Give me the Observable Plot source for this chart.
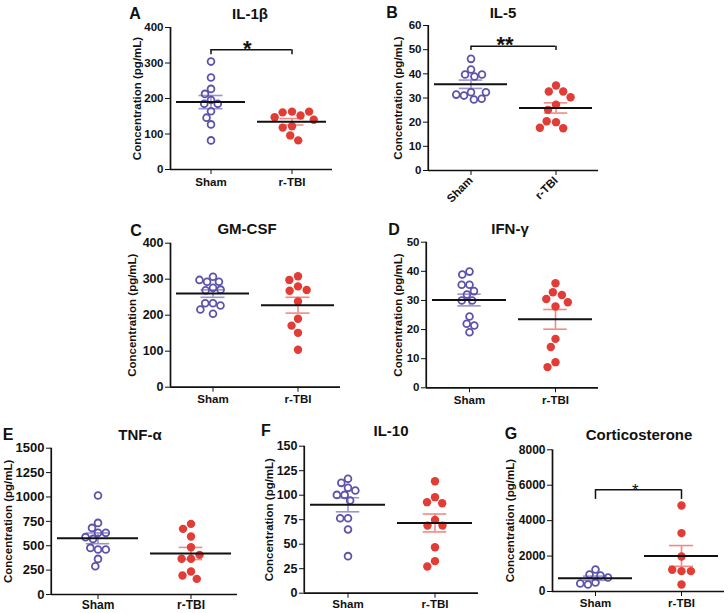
<!DOCTYPE html>
<html><head><meta charset="utf-8">
<script src="https://cdn.jsdelivr.net/npm/d3@7"></script>
<script src="https://cdn.jsdelivr.net/npm/@observablehq/plot@0.6"></script>
<style>
body{margin:0;background:#fff;}
#fig{position:relative;width:728px;height:613px;overflow:hidden;font-family:"Liberation Sans",Arial,sans-serif;background:#fff;}
#fig svg{position:absolute;left:0;top:0;}
.t{position:absolute;font-weight:bold;font-size:15px;transform:translate(-50%,-50%);white-space:nowrap;color:#111;}
.pC g[aria-label="y-axis tick label"]{font-size:12.5px;}
.pE g[aria-label="y-axis tick label"]{font-size:13px;}
.pE g[aria-label="fx-axis tick label"]{font-size:12px;}
.pF g[aria-label="y-axis tick label"]{font-size:12.5px;}
.pG g[aria-label="y-axis tick label"]{font-size:12px;}
</style></head><body><div id="fig"></div>
<script>
// ---- data ----
const groups = ["Sham", "r-TBI"];
const titles = ["IL-1β", "IL-5", "GM-CSF", "IFN-γ", "TNF-α", "IL-10", "Corticosterone"];
const letters = ["A", "B", "C", "D", "E", "F", "G"];
const yLabel = "Concentration (pg/mL)";

const il1bSham = [304, 259, 227, 213, 196, 185, 185, 164, 146, 127, 82];
const il1bTBI = [163, 161, 152, 163, 147, 122, 140, 118, 96, 82];
const il5Sham = [46.2, 41.8, 39.7, 38.9, 39.7, 32.4, 31.0, 29.4, 29.7, 31.4, 32.4];
const il5TBI = [35.2, 32.7, 32.7, 30.3, 27.2, 25.1, 20.0, 20.4, 17.5, 17.7];
const gmcsfSham = [307, 293, 293, 298, 276, 269, 271, 233, 233, 227, 216, 204];
const gmcsfTBI = [308, 298, 280, 268, 270, 238, 190, 171, 151, 104];
const ifngSham = [39.9, 38.9, 35.4, 35.4, 33.2, 32.0, 30.0, 30.0, 24.5, 22.0, 21.4, 19.1];
const ifngTBI = [35.9, 32.8, 31.9, 30.5, 27.9, 29.4, 16.8, 14.0, 8.8, 7.1];
const tnfaSham = [1015, 734, 683, 632, 632, 570, 588, 461, 478, 461, 365, 290];
const tnfaTBI = [724, 673, 594, 485, 366, 366, 406, 236, 195, 160];
const il10Sham = [116.7, 112.6, 107.5, 104.8, 100.3, 100.3, 94.6, 76.5, 76.5, 65, 37.8];
const il10TBI = [114.3, 98, 92.9, 91.8, 74.8, 69, 69, 46.9, 32.7, 27.2];
const corticoSham = [1242, 960, 903, 790, 508, 395, 452];
const corticoTBI = [4859, 3296, 1977, 1149, 1224, 1149, 395];

const ticks400 = [0, 100, 200, 300, 400];
const ticks60 = [0, 10, 20, 30, 40, 50, 60];
const ticks50 = [0, 10, 20, 30, 40, 50];
const ticks1500 = [0, 250, 500, 750, 1000, 1250, 1500];
const ticks150 = [0, 25, 50, 75, 100, 125, 150];
const ticks8000 = [0, 2000, 4000, 6000, 8000];

const sigA = {label: "*", top: 337, drop: 323};
const sigB = {label: "**", top: 51.4, drop: 49.7};
const sigG = {label: "*", top: 5744, drop: 5198};

// ---- layout (page pixels): [axisX, topY, zeroY, axisEnd] ----
const panels = [
  {sham: il1bSham, tbi: il1bTBI, ticks: ticks400, sig: sigA, box: [170, 27, 169, 332], lo: 38, rot: 0, pad: 3, star: 22, sw: "bold", title: [250, 13], letter: [135, 14]},
  {sham: il5Sham, tbi: il5TBI, ticks: ticks60, sig: sigB, box: [427, 25, 170, 598], lo: 35, rot: -45, pad: 3, star: 22, sw: "bold", title: [503, 12], letter: [392, 13]},
  {sham: gmcsfSham, tbi: gmcsfTBI, ticks: ticks400, sig: null, box: [170, 242.7, 386.7, 340], lo: 43, rot: 0, pad: 3, title: [247, 228], letter: [136, 231]},
  {sham: ifngSham, tbi: ifngTBI, ticks: ticks50, sig: null, box: [425, 241.7, 387.3, 598], lo: 33, rot: 0, pad: 3, title: [510, 228], letter: [394, 230]},
  {sham: tnfaSham, tbi: tnfaTBI, ticks: ticks1500, sig: null, box: [50, 447.7, 594, 237], lo: 48, rot: 0, pad: 1, title: [140, 434], letter: [8, 435]},
  {sham: il10Sham, tbi: il10TBI, ticks: ticks150, sig: null, box: [303, 445.7, 592.7, 478], lo: 40, rot: 0, pad: 2, title: [391, 430], letter: [266, 431]},
  {sham: corticoSham, tbi: corticoTBI, ticks: ticks8000, sig: sigG, box: [552, 449.3, 591, 724], lo: 47, rot: 0, pad: 2, star: 17, sw: "normal", title: [639, 434], letter: [511, 434]}
];

const shamColor = "#5c53ab", tbiColor = "#e23c36";
const semColor = {"Sham": "#9a93d3", "r-TBI": "#f28984"};
const fig = document.getElementById("fig");

panels.forEach((p, k) => {
  const [x0, y0, y1, x1] = p.box;
  const fw = (x1 - x0) / 2;
  const ymax = p.ticks[p.ticks.length - 1];
  const shamPts = p.sham.map(v => ({group: groups[0], value: v}));
  const tbiPts = p.tbi.map(v => ({group: groups[1], value: v}));
  const stats = [p.sham, p.tbi].map((v, i) => {
    const m = d3.mean(v), s = d3.deviation(v) / Math.sqrt(v.length);
    return {group: groups[i], mean: m, lo: m - s, hi: m + s};
  });
  const semInset = (fw - 24) / 2;
  const marks = [
    Plot.ruleY([0], {stroke: "#111", strokeWidth: 1.7}),
    Plot.ruleX([{group: groups[0]}], {fx: "group", x: null, y1: () => 0, y2: () => ymax, dx: -fw / 2, stroke: "#111", strokeWidth: 1.7}),
    Plot.ruleX(stats, {fx: "group", x: null, y1: "lo", y2: "hi", stroke: d => semColor[d.group], strokeWidth: 1.6}),
    Plot.ruleY(stats, {fx: "group", y: "lo", stroke: d => semColor[d.group], strokeWidth: 1.6, inset: semInset}),
    Plot.ruleY(stats, {fx: "group", y: "hi", stroke: d => semColor[d.group], strokeWidth: 1.6, inset: semInset}),
    Plot.dot(shamPts, Plot.dodgeX("middle", {fx: "group", y: "value", r: 3.4, padding: 1.2, stroke: shamColor, fill: "none", strokeWidth: 1.8})),
    Plot.dot(tbiPts, Plot.dodgeX("middle", {fx: "group", y: "value", r: 4.2, padding: 1, fill: tbiColor, stroke: "none"})),
    Plot.ruleY(stats, {fx: "group", y: "mean", stroke: "#111", strokeWidth: 2, inset: 6})
  ];
  if (p.sig) {
    const br = groups.map(g => ({group: g, ...p.sig}));
    marks.push(
      Plot.ruleX(br, {fx: "group", x: null, y1: "drop", y2: "top", stroke: "#111", strokeWidth: 1.5}),
      Plot.ruleY([br[0]], {fx: "group", y: "top", insetLeft: fw / 2, stroke: "#111", strokeWidth: 1.5}),
      Plot.ruleY([br[1]], {fx: "group", y: "top", insetRight: fw / 2, stroke: "#111", strokeWidth: 1.5}),
      Plot.text([br[0]], {fx: "group", y: "top", text: "label", frameAnchor: "right", lineAnchor: "bottom", dy: 6, fontSize: p.star, fontWeight: p.sw, fill: "#111"})
    );
  }
  const svg = Plot.plot({
    className: "p" + letters[k],
    width: 728, height: 613,
    marginLeft: x0, marginRight: 728 - x1, marginTop: y0, marginBottom: 613 - y1,
    style: {background: "transparent", fontFamily: "Liberation Sans, Arial, sans-serif", fontSize: "11.5px", fontWeight: "bold", color: "#111", overflow: "visible"},
    y: {domain: [0, ymax], ticks: p.ticks, tickFormat: "d", tickSize: 5, tickPadding: 2,
        label: yLabel, labelAnchor: "center", labelOffset: p.lo, labelArrow: false},
    fx: {domain: groups, padding: 0, axis: "bottom", tickSize: 5, tickPadding: p.pad, label: null, tickRotate: p.rot},
    marks
  });
  fig.appendChild(svg);
  const t = document.createElement("div");
  t.className = "t"; t.textContent = titles[k];
  t.style.left = p.title[0] + "px"; t.style.top = p.title[1] + "px";
  fig.appendChild(t);
  const l = document.createElement("div");
  l.className = "t"; l.textContent = letters[k]; l.style.fontSize = "16px";
  l.style.left = p.letter[0] + "px"; l.style.top = p.letter[1] + "px";
  fig.appendChild(l);
});
</script></body></html>
